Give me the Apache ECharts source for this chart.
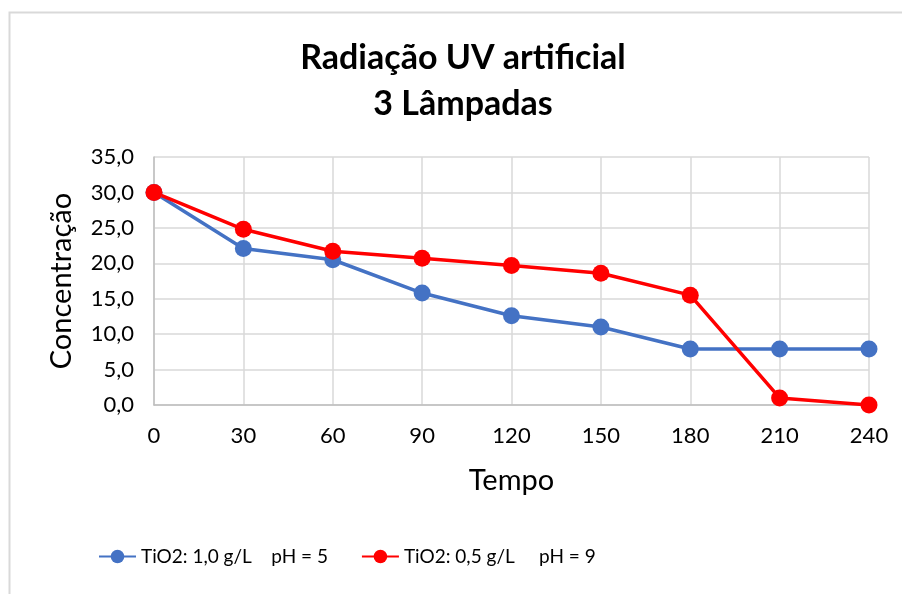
<!DOCTYPE html>
<html>
<head>
<meta charset="utf-8">
<script src="https://cdn.jsdelivr.net/npm/echarts@6/dist/echarts.min.js"></script>
<style>
  html, body { margin: 0; padding: 0; background: #fff; }
  #chart { width: 902px; height: 594px; }
</style>
</head>
<body>
<div id="chart"></div>
<script>
// dados do gráfico
var tempo = ['0', '30', '60', '90', '120', '150', '180', '210', '240'];
var serieA = [30.0, 22.1, 20.5, 15.8, 12.6, 11.0, 7.9, 7.9, 7.9];
var serieB = [30.0, 24.8, 21.7, 20.7, 19.7, 18.6, 15.5, 1.0, 0.0];
var nomeA = 'TiO2: 1,0 g/L    pH = 5';
var nomeB = 'TiO2: 0,5 g/L     pH = 9';

var fonte = 'Lato, "Open Sans", sans-serif';

var myChart = echarts.init(document.getElementById('chart'));

var option = {
  backgroundColor: '#fff',
  animation: false,
  textStyle: { fontFamily: fonte },
  graphic: [{
    type: 'rect',
    shape: { x: 9.5, y: 12.5, width: 1000, height: 1000 },
    style: { fill: 'none', stroke: '#d9d9d9', lineWidth: 2 },
    silent: true
  }],
  title: {
    text: 'Radiação UV artificial\n3 Lâmpadas',
    left: 458,
    textAlign: 'center',
    top: 30,
    textStyle: {
      fontFamily: fonte,
      fontSize: 34,
      fontWeight: 'bold',
      color: '#000',
      lineHeight: 46
    }
  },
  legend: {
    bottom: 23,
    left: 93,
    itemWidth: 37,
    itemHeight: 17,
    itemGap: 33,
    textStyle: { fontFamily: fonte, fontSize: 19, color: '#000' },
    data: [nomeA, nomeB]
  },
  grid: { left: 154, right: 33, top: 157, bottom: 189 },
  xAxis: {
    type: 'category',
    data: tempo,
    boundaryGap: false,
    name: 'Tempo',
    nameLocation: 'middle',
    nameGap: 61,
    nameTextStyle: { fontFamily: fonte, fontSize: 29, color: '#000' },
    axisLine: { lineStyle: { color: '#bfbfbf', width: 1.5 } },
    axisTick: { show: false },
    axisLabel: { fontFamily: fonte, fontSize: 22, color: '#000', margin: 20 },
    splitLine: { show: true, lineStyle: { color: '#d9d9d9', width: 1.5 } }
  },
  yAxis: {
    type: 'value',
    min: 0,
    max: 35,
    interval: 5,
    name: 'Concentração',
    nameLocation: 'middle',
    nameGap: 78,
    nameTextStyle: { fontFamily: fonte, fontSize: 29, color: '#000' },
    axisLine: { show: true, lineStyle: { color: '#bfbfbf', width: 1.5 } },
    axisTick: { show: false },
    axisLabel: {
      fontFamily: fonte, fontSize: 22, color: '#000', margin: 20,
      formatter: function (v) { return v.toFixed(1).replace('.', ','); }
    },
    splitLine: { lineStyle: { color: '#d9d9d9', width: 1.5 } }
  },
  series: [
    {
      name: nomeA,
      type: 'line',
      data: serieA,
      symbol: 'circle',
      symbolSize: 17,
      lineStyle: { color: '#4472C4', width: 3.5 },
      itemStyle: { color: '#4472C4' }
    },
    {
      name: nomeB,
      type: 'line',
      data: serieB,
      symbol: 'circle',
      symbolSize: 17,
      lineStyle: { color: '#FF0000', width: 3.5 },
      itemStyle: { color: '#FF0000' }
    }
  ]
};

myChart.setOption(option);
</script>
</body>
</html>
